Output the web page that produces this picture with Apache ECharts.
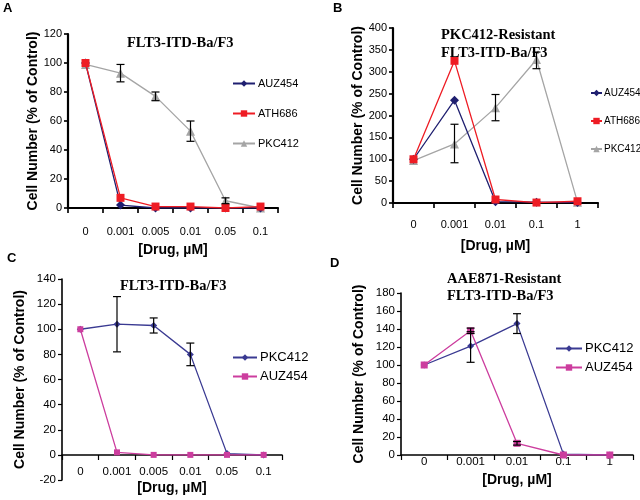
<!DOCTYPE html>
<html><head><meta charset="utf-8">
<script src="https://cdn.jsdelivr.net/npm/echarts@6/dist/echarts.min.js"></script>
<style>html,body{margin:0;padding:0;background:#fff}#c{width:640px;height:500px}</style>
</head><body><div id="c"></div>
<script>
// ---- categories ----
const catsA = ['0', '0.001', '0.005', '0.01', '0.05', '0.1'];
const catsB = ['0', '0.001', '0.01', '0.1', '1'];
const catsC = ['0', '0.001', '0.005', '0.01', '0.05', '0.1'];
const catsD = ['0', '0.001', '0.01', '0.1', '1'];

// ---- panel A ----
const A_AUZ454 = [100, 2, 0, 0, 0, 0];
const A_ATH686 = [100, 7, 1, 1, 0, 1];
const A_PKC412 = [99, 93, 77, 53, 5, 0];
const A_PKC412_low  = [null, 87, 74, 46, 3, null];
const A_PKC412_high = [null, 99, 80, 60, 7, null];

// ---- panel B ----
const B_AUZ454 = [100, 235, 3, 2, 1];
const B_ATH686 = [100, 325, 8, 1, 4];
const B_PKC412 = [97, 135, 218, 328, 2];
const B_PKC412_low  = [null, 92, 188, 307, null];
const B_PKC412_high = [null, 180, 248, 345, null];

// ---- panel C ----
const C_PKC412 = [100, 104, 103, 80, 1, 0];
const C_AUZ454 = [100, 2, 0, 0, 0, 0];
const C_PKC412_low  = [null, 82, 97, 71, null, null];
const C_PKC412_high = [null, 126, 109, 89, null, null];

// ---- panel D ----
const D_PKC412 = [100, 121, 146, 1, 0];
const D_AUZ454 = [100, 138, 13, 0, 0];
const D_PKC412_low  = [null, 103, 135, null, null];
const D_PKC412_high = [null, 137, 157, null, null];
const D_AUZ454_low  = [null, 135, 11, null, null];
const D_AUZ454_high = [null, 141, 15, null, null];

// ---- tick settings ----
const yA = {min: 0, max: 120, interval: 20};
const yB = {min: 0, max: 400, interval: 50};
const yC = {min: -20, max: 140, interval: 20};
const yD = {min: 0, max: 180, interval: 20};

const NAVY = '#1f1f70', RED = '#ee1c24', GRAY = '#a5a5a5';
const NAVY2 = '#3a3a92', MAG = '#cc3d9e';
const SANS = '"Liberation Sans", Arial, sans-serif';
const SERIF = '"Liberation Serif", "Times New Roman", serif';

function errData(lo, hi) {
  const out = [];
  lo.forEach((v, i) => { if (v != null) out.push([i, v, hi[i]]); });
  return out;
}
function errSeries(idx, lo, hi) {
  return {
    type: 'custom', xAxisIndex: idx, yAxisIndex: idx, z: 5,
    encode: {x: 0, y: [1, 2]}, silent: true,
    data: errData(lo, hi),
    renderItem: function (params, api) {
      const x = api.value(0);
      const p1 = api.coord([x, api.value(2)]);
      const p2 = api.coord([x, api.value(1)]);
      const w = 4;
      const st = {stroke: '#000', lineWidth: 1.2};
      return {type: 'group', children: [
        {type: 'line', shape: {x1: p1[0], y1: p1[1], x2: p2[0], y2: p2[1]}, style: st},
        {type: 'line', shape: {x1: p1[0] - w, y1: p1[1], x2: p1[0] + w, y2: p1[1]}, style: st},
        {type: 'line', shape: {x1: p2[0] - w, y1: p2[1], x2: p2[0] + w, y2: p2[1]}, style: st}
      ]};
    }
  };
}
function lineSeries(name, idx, data, color, symbol, size, z) {
  return {
    name: name, type: 'line', xAxisIndex: idx, yAxisIndex: idx, data: data,
    symbol: symbol, symbolSize: size, z: z || 3,
    lineStyle: {color: color, width: 1.3},
    itemStyle: {color: color},
    emphasis: {disabled: true}, animation: false
  };
}
function xAxisDef(idx, cats, size, margin, gap, lw, offset) {
  return {
    type: 'category', gridIndex: idx, data: cats, offset: offset || 0,
    axisLine: {show: true, onZero: false, lineStyle: {color: '#000', width: lw}},
    axisTick: {show: true, length: 5, lineStyle: {color: '#000', width: lw * 0.75}},
    axisLabel: {color: '#000', fontFamily: SANS, fontSize: size, margin: margin, interval: 0},
    name: '[Drug, µM]', nameLocation: 'middle', nameGap: gap,
    nameTextStyle: {color: '#000', fontFamily: SANS, fontSize: 14, fontWeight: 'bold'},
    splitLine: {show: false}
  };
}
function yAxisDef(idx, r, size, gap, lw) {
  return {
    type: 'value', gridIndex: idx, min: r.min, max: r.max, interval: r.interval,
    axisLine: {show: true, lineStyle: {color: '#000', width: lw}},
    axisTick: {show: true, length: 4, lineStyle: {color: '#000', width: lw * 0.75}},
    axisLabel: {color: '#000', fontFamily: SANS, fontSize: size, margin: 6},
    splitLine: {show: false},
    name: 'Cell Number (% of Control)', nameLocation: 'middle', nameGap: gap,
    nameTextStyle: {color: '#000', fontFamily: SANS, fontSize: 14, fontWeight: 'bold'}
  };
}
function legendDef(names, left, top, w, gap, size, pad) {
  return {
    data: names, orient: 'vertical', left: left, top: top, padding: 0,
    itemWidth: w, itemHeight: 8, itemGap: gap,
    formatter: n => n.split(':')[1],
    textStyle: {color: '#000', fontFamily: SANS, fontSize: size, padding: [0, 0, 0, pad == null ? -2 : pad]},
    selectedMode: false
  };
}
const letter = {fontFamily: SANS, fontSize: 13, fontWeight: 'bold', color: '#000'};
const ttl = {fontFamily: SERIF, fontSize: 14.5, fontWeight: 'bold', color: '#000'};

const chart = echarts.init(document.getElementById('c'));
chart.setOption({
  animation: false,
  backgroundColor: '#fff',
  title: [
    {text: 'A', left: 3, top: 2, padding: 0, textStyle: letter},
    {text: 'B', left: 333, top: 2, padding: 0, textStyle: letter},
    {text: 'C', left: 7, top: 252, padding: 0, textStyle: letter},
    {text: 'D', left: 330, top: 257, padding: 0, textStyle: letter},
    {text: 'FLT3-ITD-Ba/F3', left: 127, top: 36, padding: 0, textStyle: ttl},
    {text: 'PKC412-Resistant\nFLT3-ITD-Ba/F3', left: 441, top: 26, padding: 0,
     textStyle: Object.assign({lineHeight: 18}, ttl)},
    {text: 'FLT3-ITD-Ba/F3', left: 120, top: 279, padding: 0, textStyle: ttl},
    {text: 'AAE871-Resistant\nFLT3-ITD-Ba/F3', left: 447, top: 271, padding: 0,
     textStyle: Object.assign({lineHeight: 17}, ttl)}
  ],
  legend: [
    legendDef(['A:AUZ454', 'A:ATH686', 'A:PKC412'], 232, 78, 22, 19, 11),
    legendDef(['B:AUZ454', 'B:ATH686', 'B:PKC412'], 590, 88, 11, 18, 10, -3),
    legendDef(['C:PKC412', 'C:AUZ454'], 232, 351, 24, 6, 13),
    legendDef(['D:PKC412', 'D:AUZ454'], 555, 342, 26, 6, 13)
  ],
  grid: [
    {left: 68, top: 34, width: 210, height: 174, outerBoundsMode: 'none'},
    {left: 393, top: 28, width: 205, height: 175, outerBoundsMode: 'none'},
    {left: 62, top: 279, width: 220, height: 201, outerBoundsMode: 'none'},
    {left: 401, top: 293, width: 232, height: 162, outerBoundsMode: 'none'}
  ],
  xAxis: [
    xAxisDef(0, catsA, 11, 18, 35, 2.2),
    xAxisDef(1, catsB, 11, 16, 36, 2.2),
    xAxisDef(2, catsC, 11.5, 11, 26, 1.6, -25),
    xAxisDef(3, catsD, 11.5, 1, 18, 1.6)
  ],
  yAxis: [
    yAxisDef(0, yA, 11, 26, 2.2),
    yAxisDef(1, yB, 11, 28, 2.2),
    yAxisDef(2, yC, 11.5, 35, 1.6),
    yAxisDef(3, yD, 11.5, 35, 1.6)
  ],
  series: [
    lineSeries('A:PKC412', 0, A_PKC412, GRAY, 'triangle', 9, 2),
    lineSeries('A:AUZ454', 0, A_AUZ454, NAVY, 'diamond', 9, 3),
    lineSeries('A:ATH686', 0, A_ATH686, RED, 'rect', 8, 4),
    errSeries(0, A_PKC412_low, A_PKC412_high),

    lineSeries('B:PKC412', 1, B_PKC412, GRAY, 'triangle', 9, 2),
    lineSeries('B:AUZ454', 1, B_AUZ454, NAVY, 'diamond', 9, 3),
    lineSeries('B:ATH686', 1, B_ATH686, RED, 'rect', 8, 4),
    errSeries(1, B_PKC412_low, B_PKC412_high),

    lineSeries('C:PKC412', 2, C_PKC412, NAVY2, 'diamond', 7, 3),
    lineSeries('C:AUZ454', 2, C_AUZ454, MAG, 'rect', 6, 4),
    errSeries(2, C_PKC412_low, C_PKC412_high),

    lineSeries('D:PKC412', 3, D_PKC412, NAVY2, 'diamond', 7, 3),
    lineSeries('D:AUZ454', 3, D_AUZ454, MAG, 'rect', 7, 4),
    errSeries(3, D_PKC412_low, D_PKC412_high),
    errSeries(3, D_AUZ454_low, D_AUZ454_high)
  ]
});
</script>
</body></html>
